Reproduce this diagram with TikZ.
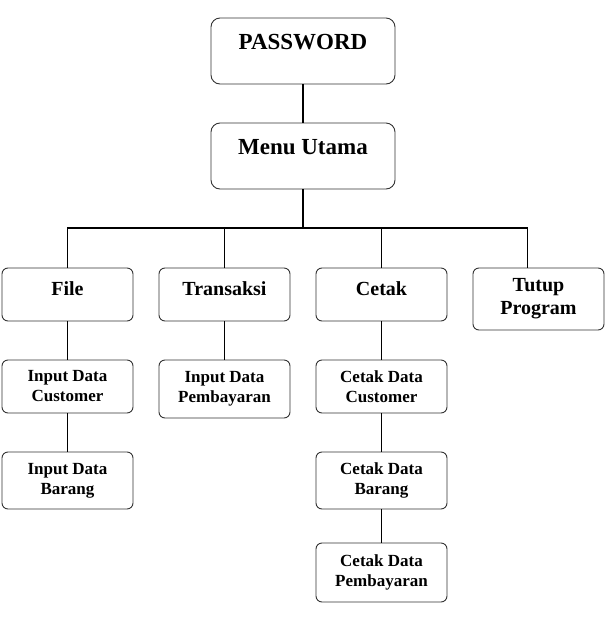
\documentclass[tikz,border=0pt]{standalone}
\usepackage{fontspec}
\setmainfont{Liberation Serif}
\usetikzlibrary{positioning}
\tikzset{
  every picture/.style = {
    line width = 1.6pt,
    node distance = 39pt and 26pt,
  }
  ,
  box/.style = {
    rectangle,
    rounded corners = 6pt,
    draw = black!80,
    line width = 0.9pt,
    outer sep = 0pt
  }
  , % top boxes, text sits near the top
  mainbox/.style = {
    box,
    rounded corners = 9pt,
    font = \fontsize{23pt}{26pt}\selectfont\bfseries,
    minimum width = 184pt,
    inner ysep = 0pt,
    text height = 31pt,
    text depth = 35pt
  }
  , % first menu level
  menubox/.style = {
    box,
    font = \fontsize{20pt}{23pt}\selectfont\bfseries,
    minimum width = 131pt,
    inner ysep = 0pt,
    text height = 27pt,
    text depth = 26pt
  }
  , % sub menus
  subbox/.style = {
    box,
    align = center,
    font = \fontsize{17pt}{20pt}\selectfont\bfseries,
    minimum width = 131pt,
    minimum height = 53pt
  }
}

\begin{document}
\begin{tikzpicture}
\useasboundingbox (-303pt,51pt) rectangle (302pt,-574pt);

\node [mainbox] (pass) {PASSWORD};
\node [mainbox, below = of pass] (menu) {Menu Utama};

\node [menubox, below = 79pt of menu, xshift = 78.5pt] (cetak) {Cetak};
\node [menubox, left = of cetak] (trans) {Transaksi};
\node [menubox, left = of trans] (file) {File};
\node [subbox, font = \fontsize{20pt}{23pt}\selectfont\bfseries, minimum height = 62pt,
       right = 26pt of cetak.north east, anchor = north west] (tutup) {Tutup\\Program};

\node [subbox, below = of file] (icust) {Input Data\\Customer};
\node [subbox, minimum height = 57pt, below = of icust] (ibarang) {Input Data\\Barang};
\node [subbox, minimum height = 58pt, below = of trans] (ibayar) {Input Data\\Pembayaran};

\node [subbox, below = of cetak] (ccust) {Cetak Data\\Customer};
\node [subbox, minimum height = 57pt, below = of ccust] (cbarang) {Cetak Data\\Barang};
\node [subbox, minimum height = 59pt, below = 34pt of cbarang] (cbayar) {Cetak Data\\Pembayaran};

\coordinate (tdrop) at ([xshift=-11pt]tutup.north);

\draw (pass) -- (menu);
\draw (menu.south) -- ++(0,-39pt) coordinate (bus);
\draw (file) -- (file.north |- bus) -- (tdrop |- bus) -- (tdrop);
\draw (trans) -- (trans.north |- bus);
\draw (cetak) -- (cetak.north |- bus);

\path (file) edge (icust);
\path (icust) edge (ibarang);
\path (trans) edge (ibayar);
\path (cetak) edge (ccust);
\path (ccust) edge (cbarang);
\path (cbarang) edge (cbayar);
\end{tikzpicture}
\end{document}
